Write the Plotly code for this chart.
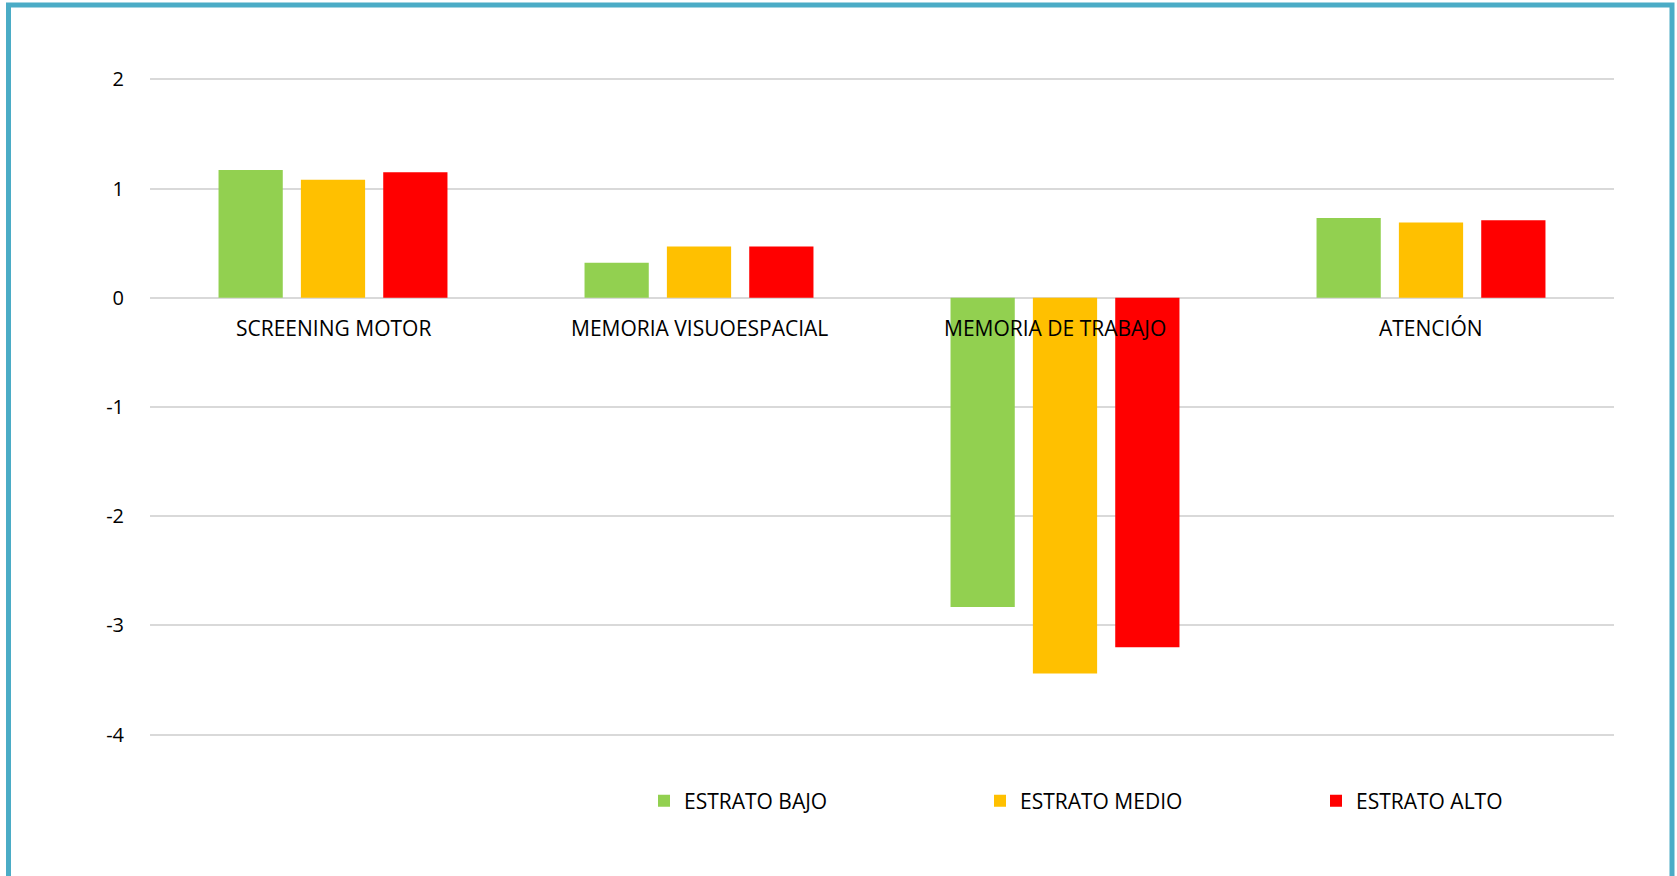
import plotly.graph_objects as go

categories = ["SCREENING MOTOR", "MEMORIA VISUOESPACIAL", "MEMORIA DE TRABAJO", "ATENCIÓN"]
series_names = ["ESTRATO BAJO", "ESTRATO MEDIO", "ESTRATO ALTO"]
estrato_bajo = [1.17, 0.32, -2.83, 0.73]
estrato_medio = [1.08, 0.47, -3.44, 0.69]
estrato_alto = [1.15, 0.47, -3.20, 0.71]
y_ticks = [2, 1, 0, -1, -2, -3, -4]

colors = ["#92D050", "#FFC000", "#FF0000"]
FONT = "Open Sans"

W, H = 1677, 876
ML, MR, MT, MB = 150, 63, 78, 140
pw, ph = W - ML - MR, H - MT - MB

fig = go.Figure()
for name, vals, c in zip(series_names, [estrato_bajo, estrato_medio, estrato_alto], colors):
    fig.add_trace(go.Bar(x=categories, y=vals, name=name, marker=dict(color=c, line=dict(width=0))))

# category labels just under the zero line
label_xshift = {"MEMORIA DE TRABAJO": -10}
for cat in categories:
    fig.add_annotation(x=cat, y=0, xref="x", yref="y", text=cat, showarrow=False,
                       yshift=-30, xshift=label_xshift.get(cat, 0),
                       font=dict(family=FONT, size=21, color="#000000"))


def px_to_paper_x(px):
    return (px - ML) / pw


def px_to_paper_y(py):
    return (H - MB - py) / ph


# outer border
fig.add_shape(type="rect", xref="paper", yref="paper",
              x0=px_to_paper_x(8.5), x1=px_to_paper_x(1672),
              y0=px_to_paper_y(930), y1=px_to_paper_y(5),
              line=dict(color="#4BACC6", width=5), fillcolor="rgba(0,0,0,0)", layer="below")

fig.update_layout(
    width=W, height=H,
    margin=dict(l=ML, r=MR, t=MT, b=MB, pad=0),
    paper_bgcolor="white", plot_bgcolor="white",
    barmode="group", bargap=0.325, bargroupgap=0.22,
    font=dict(family=FONT, size=20, color="#000000"),
    showlegend=True,
    legend=dict(orientation="h", x=px_to_paper_x(644), xanchor="left",
                y=px_to_paper_y(801), yanchor="middle",
                font=dict(family=FONT, size=21, color="#000000"),
                entrywidth=291, entrywidthmode="pixels", itemwidth=30,
                bgcolor="rgba(0,0,0,0)"),
    xaxis=dict(showticklabels=False, showgrid=False, zeroline=False, showline=False, ticks=""),
    yaxis=dict(range=[-4.012, 2.012], tickvals=y_ticks, ticktext=[str(v) for v in y_ticks],
               showgrid=True, gridcolor="#D9D9D9", gridwidth=2,
               zeroline=True, zerolinecolor="#D9D9D9", zerolinewidth=2, showline=False,
               ticks="", ticklabelstandoff=25,
               tickfont=dict(family=FONT, size=20, color="#000000")),
)

fig.write_html("out.html", config={"displayModeBar": False},
               post_script="document.body.style.margin='0';")
